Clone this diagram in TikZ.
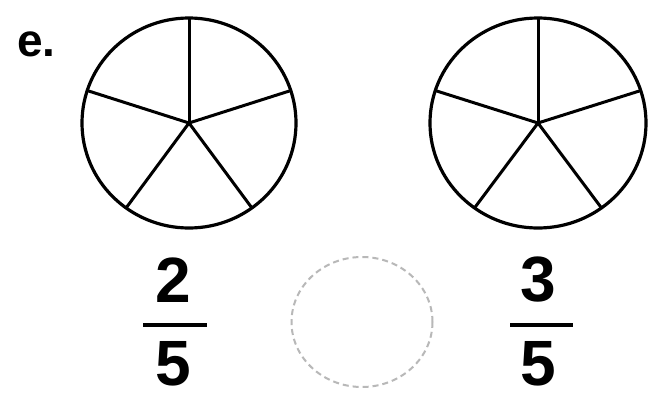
\documentclass[tikz,border=0pt]{standalone}
\usepackage{fontspec}
\setmainfont{Liberation Sans}
\usetikzlibrary{calc,shapes.geometric}
\begin{document}
\begin{tikzpicture}[x=1pt,y=-1pt,
  wheel/.style={draw=black,line width=3.2pt},
  spoke/.style={draw=black,line width=3pt},
  num/.style={inner sep=0pt,font=\fontsize{64}{64}\bfseries\selectfont},
  bar/.style={draw=black,line width=3.8pt},
  blank/.style={draw=black!28,line width=2pt,dash pattern=on 6pt off 4pt}]
\useasboundingbox[fill=white] (0,0) rectangle (651,402);
% label
\node[inner sep=0pt,font=\fontsize{46}{46}\bfseries\selectfont,anchor=base west] (lab) at (17,56) {e.};
% left circle
\coordinate (c1) at (189,123);
\draw[wheel] (c1) ellipse [x radius=107, y radius=105];
\foreach \a [count=\i] in {90,162,18,234,306}
  \draw[spoke] (c1) -- ($(c1)+(\a:107 and -105)$);
% right circle
\coordinate (c2) at (538,123);
\draw[wheel] (c2) ellipse [x radius=108, y radius=105];
\foreach \a [count=\i] in {90,162,18,234,306}
  \draw[spoke] (c2) -- ($(c2)+(\a:108 and -105)$);
% fractions
\node[num] (n1) at (173,280) {2};
\node[num] (d1) at (173,364) {5};
\draw[bar] (143,325) -- (207,325);
\node[num] (n2) at (538,280) {3};
\node[num] (d2) at (538,364) {5};
\draw[bar] (510,325) -- (573,325);
% dashed answer circle
\node[blank,ellipse,minimum width=141,minimum height=130] (ans) at (362,322) {};
\end{tikzpicture}
\end{document}
